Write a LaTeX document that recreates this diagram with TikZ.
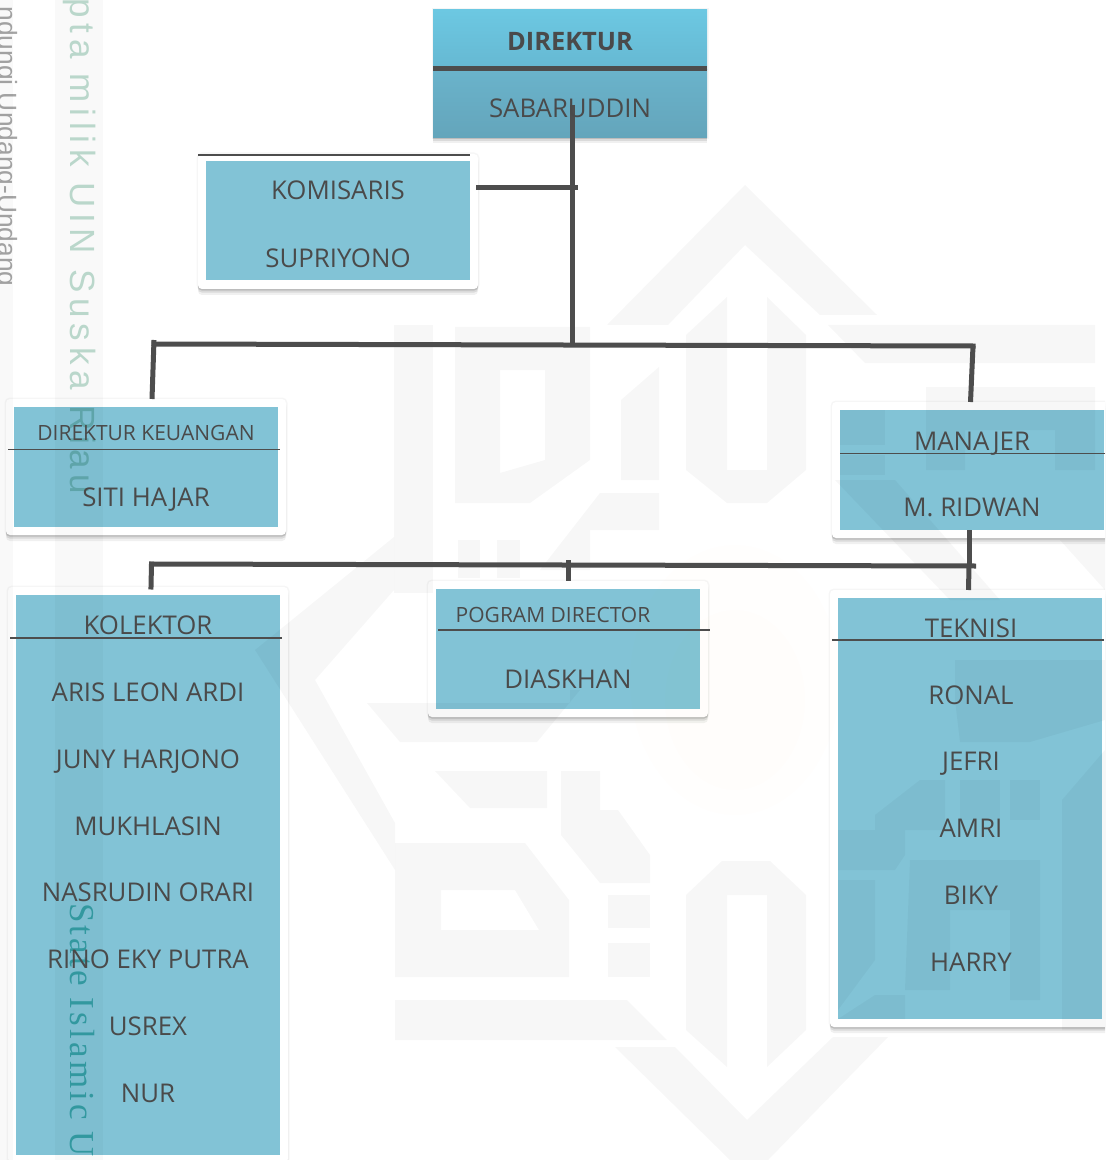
\documentclass[tikz,border=0pt]{standalone}
\usepackage{fontspec}
\setmainfont{Open Sans}
\newfontfamily\wmsans[LetterSpace=16.4]{Liberation Sans}
\newfontfamily\wmgrey{Liberation Sans}
\newfontfamily\wmserif[LetterSpace=9]{Liberation Serif}
\definecolor{boxblue}{HTML}{82C3D6}
\definecolor{ink}{HTML}{4A4A4A}
\definecolor{wire}{HTML}{4D4D4D}
\definecolor{headA}{HTML}{6CC8E2}
\definecolor{headB}{HTML}{66B8D2}
\definecolor{headC}{HTML}{6AB3CB}
\definecolor{headD}{HTML}{64A5BB}
\definecolor{wmgreen}{HTML}{BFDDD0}
\definecolor{wmteal}{HTML}{66CCC4}
\tikzset{
  softshadow/.style={
    preaction={draw=black,draw opacity=.035,line width=1.5pt,fill=none},
    preaction={draw=none,fill=black,fill opacity=.06,transform canvas={yshift=-3pt}},
    preaction={draw=none,fill=black,fill opacity=.09,transform canvas={yshift=-1.8pt}},
    preaction={draw=none,fill=black,fill opacity=.10,transform canvas={yshift=-.8pt}}},
  framebox/.style={draw=none,fill=white,rounded corners=2pt,inner sep=0pt,outer sep=0pt,softshadow,minimum width=140pt},
  bluebox/.style={draw=none,fill=boxblue,inner sep=0pt,outer sep=0pt,minimum width=132pt},
  label/.style={text=ink,font=\fontsize{12.9}{15}\selectfont,inner sep=0pt,text height=.72em,text depth=0pt,anchor=center,yshift=-1pt},
  smalllabel/.style={label,font=\fontsize{10.5}{13}\selectfont,yshift=1pt},
  connector/.style={draw=wire,line width=2.5pt},
  dividerline/.style={draw=wire,line width=.75pt},
  wmshape/.style={fill=black,fill opacity=.03,draw=none,even odd rule},
  band/.style={fill=black,fill opacity=.024,draw=none}
}
\begin{document}
\begin{tikzpicture}[x=.5pt,y=-.5pt]
\useasboundingbox (0,0) rectangle (1105,1160);
\clip (0,0) rectangle (1105,1160);
\fill[white] (0,0) rectangle (1105,1160);
% header box
\node[framebox,rounded corners=0pt,fill=boxblue,minimum width=137pt,minimum height=64pt] (dir) at (570,73.5) {};
\node[draw=none,top color=headA,bottom color=headB,minimum width=137pt,minimum height=30pt,inner sep=0pt,outer sep=0pt] (dirtop) at (570,39.5) {};
\node[draw=none,top color=headC,bottom color=headD,minimum width=137pt,minimum height=34pt,inner sep=0pt,outer sep=0pt] (dirbot) at (570,103.5) {};
% framed boxes
\node[framebox,minimum height=67.5pt] (fkom) at (338,221.5) {};
\node[framebox,minimum height=68pt] (fkeu) at (146,467) {};
\node[framebox,minimum height=68pt] (fman) at (972,470) {};
\node[framebox,minimum height=288pt] (fkol) at (148,875) {};
\node[framebox,minimum height=68pt] (fpog) at (568,649) {};
\node[framebox,minimum height=218.5pt] (ftek) at (970,808.5) {};
\node[bluebox,minimum height=59.5pt] (kom) at (338,220.5) {};
\node[bluebox,minimum height=60pt] (keu) at (146,467) {};
\node[bluebox,minimum height=60pt] (man) at (972,470) {};
\node[bluebox,minimum height=280pt] (kol) at (148,875) {};
\node[bluebox,minimum height=60pt] (pog) at (568,649) {};
\node[bluebox,minimum height=210.5pt] (tek) at (970,808.5) {};
% watermark side bands
\fill[band] (0,0) rectangle (13,1160);
\fill[band] (55,0) rectangle (103,1160);
% faint seal
\fill[yellow,fill opacity=.008] (735,680) ellipse (105 and 135);
\fill[yellow,fill opacity=.008] (735,700) ellipse (70 and 90);
% watermark calligraphy
\fill[wmshape] (745,185)--(877,315)--(820,315)--(745,245)--(668,325)--(607,325)--cycle;
\fill[wmshape] (394,325)--(433,325)--(433,593)--(394,593)--cycle;
\fill[wmshape] (455,327)--(590,327)--(590,460)--(530,503)--(455,503)--cycle (500,370)--(545,370)--(545,460)--(500,473)--cycle;
\fill[wmshape] (659,367)--(659,480)--(621,480)--(621,400)--cycle;
\fill[wmshape] (686,335)--(727,297)--(727,470)--(767,470)--(767,297)--(806,335)--(806,470)--(767,503)--(727,503)--(686,470)--cycle;
\fill[wmshape] (828,325)--(1095,325)--(1095,363)--(865,363)--cycle;
\fill[wmshape] (926,387)--(1095,387)--(1095,470)--(1055,470)--(1055,430)--(965,430)--(965,470)--(926,470)--cycle;
\fill[wmshape] (840,410)--(885,410)--(885,445)--(840,445)--cycle;
\fill[wmshape] (840,455)--(885,455)--(885,475)--(840,475)--cycle;
\fill[wmshape] (835,480)--(895,480)--(1000,600)--(950,600)--cycle;
\fill[wmshape] (1060,540)--(1105,540)--(1105,590)--cycle;
\fill[wmshape] (458,540)--(480,540)--(480,578)--(458,578)--cycle;
\fill[wmshape] (497,540)--(520,540)--(520,578)--(497,578)--cycle;
\fill[wmshape] (600,493)--(659,493)--(659,530)--(590,530)--(590,570)--(540,570)--cycle;
\fill[wmshape] (394,537)--(255,650)--(395,870)--(395,823)--(315,680)--(394,590)--cycle;
\fill[wmshape] (367,703)--(570,703)--(570,690)--(580,690)--(537,742)--(400,742)--cycle;
\fill[wmshape] (435,771)--(547,771)--(547,808)--(470,808)--cycle;
\fill[wmshape] (561,771)--(600,771)--(600,810)--(618,810)--(650,855)--(650,883)--(600,883)--(561,835)--cycle;
\fill[wmshape] (395,843)--(525,843)--(569,900)--(569,977)--(395,977)--cycle (441,890)--(515,890)--(539,930)--(441,930)--cycle;
\fill[wmshape] (608,895)--(650,895)--(650,928)--(608,928)--cycle;
\fill[wmshape] (608,943)--(650,943)--(650,977)--(608,977)--cycle;
\fill[wmshape] (395,1000)--(627,1000)--(667,1040)--(395,1040)--cycle;
\fill[wmshape] (686,895)--(722,861)--(770,861)--(806,895)--(806,1030)--(767,1067)--(767,895)--(727,895)--(727,1067)--(686,1030)--cycle;
\fill[wmshape] (615,1047)--(675,1047)--(747,1120)--(833,1037)--(888,1037)--(768,1160)--(730,1160)--cycle;
\fill[wmshape] (955,660)--(1105,660)--(1105,720)--(1030,742)--(960,742)--(955,700)--cycle;
\fill[wmshape] (960,780)--(1000,780)--(1000,820)--(960,820)--cycle;
\fill[wmshape] (1010,780)--(1040,780)--(1040,820)--(1010,820)--cycle;
\fill[wmshape] (875,815)--(920,780)--(945,780)--(945,830)--(905,830)--(905,855)--(895,870)--(838,870)--(838,830)--(875,830)--cycle;
\fill[wmshape] (910,860)--(1040,860)--(1040,1000)--(1010,1000)--(1010,910)--(950,910)--(950,990)--(905,990)--cycle;
\fill[wmshape] (838,880)--(875,880)--(875,960)--(838,1010)--cycle;
\fill[wmshape] (1062,800)--(1105,750)--(1105,1030)--(1062,1030)--cycle;
\fill[wmshape] (838,1019)--(875,995)--(905,995)--(905,1019)--cycle;
% vertical page text
\begin{scope}[blend mode=multiply]
\node[rotate=-90,anchor=base west,inner sep=0pt,text=wmgreen,font=\fontsize{17.5}{20}\wmsans] (wmone) at (70,-2) {pta milik UIN Suska Riau};
\node[rotate=-90,anchor=base west,inner sep=0pt,text=wmteal,font=\fontsize{17.5}{20}\wmserif] (wmtwo) at (70,903) {State Islamic U};
\node[rotate=-90,anchor=base west,inner sep=0pt,text=gray,text opacity=.7,font=\fontsize{13.2}{15}\wmgrey] (wmthree) at (-2,6) {ndungi Undang-Undang};
\end{scope}
% dividers
\draw[wire,line width=2.5pt] (dir.west |- 0,69) -- (dir.east |- 0,69);
\draw[dividerline,line width=1pt] (198,155) -- (470,155);
\draw[dividerline] (8,449.5) -- (280,449.5);
\draw[dividerline] (840,453.5) -- (1105,453.5);
\draw[dividerline] (10,638) -- (282,638);
\draw[dividerline] (438,630) -- (710,630);
\draw[dividerline] (832,640) -- (1104,640);
% connector junctions
\coordinate (stemtop) at (572,105);
\coordinate (stemfoot) at (572,345);
\coordinate (busL) at (154,344);
\coordinate (cornerL) at (154,340);
\coordinate (busR) at (973,346);
\coordinate (komjoin) at (578,188);
\coordinate (komstart) at (476,188);
\coordinate (manfoot) at (969,530);
\coordinate (teamL) at (151.5,564);
\coordinate (teamR) at (976,566);
\coordinate (teamC) at (568,560);
\coordinate (teamJ) at (969,566);
% connectors
\draw[connector] (stemtop) -- (stemfoot);
\draw[connector] (komstart) -- (komjoin);
\draw[connector,line cap=rect] (busL) -- (busR);
\draw[connector] (cornerL) -- (fkeu.north -| 152,0);
\draw[connector] (busR) -- (fman.north -| 970.5,0);
\draw[connector] (manfoot) -- (teamJ);
\draw[connector] (teamL) -- (teamR);
\draw[connector,line cap=rect] (teamL) -- (fkol.north -| 151,0);
\draw[connector] (teamC) -- (fpog.north);
\draw[connector] (teamJ) -- (ftek.north -| 968.5,0);
% labels
\node[label,font=\fontsize{12.7}{15}\selectfont\bfseries] (tdir) at (570,41) {DIREKTUR};
\node[label] (tsab) at (570,108) {SABARUDDIN};
\node[label] (tkom) at (338,190) {KOMISARIS};
\node[label] (tsup) at (338,258) {SUPRIYONO};
\node[smalllabel] (tkeu) at (146,433) {DIREKTUR KEUANGAN};
\node[label] (tsiti) at (146,497) {SITI HAJAR};
\node[label] (tman) at (972,441) {MANAJER};
\node[label] (trid) at (972,507) {M. RIDWAN};
\node[label] (tkol) at (148,625) {KOLEKTOR};
\node[label] (taris) at (148,692) {ARIS LEON ARDI};
\node[label] (tjuny) at (148,759) {JUNY HARJONO};
\node[label] (tmuk) at (148,826) {MUKHLASIN};
\node[label] (tnas) at (148,892) {NASRUDIN ORARI};
\node[label] (trino) at (148,959) {RINO EKY PUTRA};
\node[label] (tusr) at (148,1026) {USREX};
\node[label] (tnur) at (148,1093) {NUR};
\node[smalllabel] (tpog) at (553,615) {POGRAM DIRECTOR};
\node[label] (tdia) at (568,679) {DIASKHAN};
\node[label] (ttek) at (971,628) {TEKNISI};
\node[label] (tron) at (971,695) {RONAL};
\node[label] (tjef) at (971,761) {JEFRI};
\node[label] (tamr) at (971,828) {AMRI};
\node[label] (tbik) at (971,895) {BIKY};
\node[label] (thar) at (971,962) {HARRY};
\end{tikzpicture}
\end{document}
